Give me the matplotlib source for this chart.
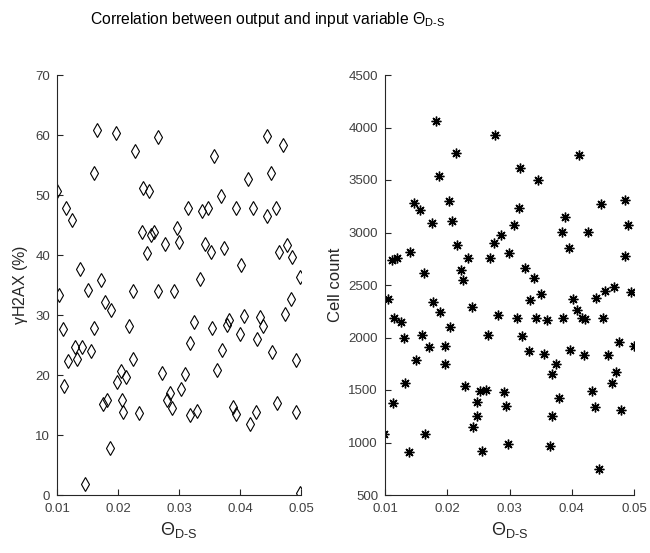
import numpy as np
import matplotlib
matplotlib.use("Agg")
import matplotlib.pyplot as plt

# gamma-H2AX (%) vs theta_D-S
theta_h2ax = [0.01648, 0.01961, 0.02284, 0.02658, 0.01604, 0.0100, 0.02416, 0.0251, 0.01143, 0.01253,
              0.02394, 0.02592, 0.02542, 0.02768, 0.02482, 0.01385, 0.01714, 0.04435, 0.04704, 0.03579,
              0.04128, 0.04501, 0.0369, 0.0314, 0.03382, 0.03476, 0.03937, 0.04221, 0.04435, 0.04595,
              0.02965, 0.03008, 0.03426, 0.03519, 0.03739, 0.04019, 0.04638, 0.0477, 0.04858, 0.03337,
              0.04984, 0.01033, 0.015, 0.02246, 0.02658, 0.0178, 0.01889, 0.01099, 0.01604, 0.02175,
              0.01296, 0.01407, 0.0156, 0.01188, 0.01329, 0.02241, 0.01121, 0.02043, 0.01977, 0.02131,
              0.02723, 0.01823, 0.01757, 0.02065, 0.02086, 0.0235, 0.01868, 0.01451, 0.02921, 0.0483,
              0.0325, 0.03535, 0.03815, 0.03793, 0.04062, 0.04325, 0.04375, 0.04743, 0.03996, 0.04282,
              0.03184, 0.03711, 0.04529, 0.04918, 0.03097, 0.03629, 0.03031, 0.02855, 0.02811, 0.02883,
              0.03184, 0.033, 0.03887, 0.03937, 0.04259, 0.04172, 0.04611, 0.04918, 0.04984]
h2ax = [60.9, 60.3, 57.4, 59.6, 53.6, 50.7, 51.2, 50.7, 47.9, 45.8,
        43.8, 43.8, 43.3, 41.8, 40.3, 37.6, 35.8, 59.8, 58.4, 56.5,
        52.7, 53.6, 49.8, 47.8, 47.4, 47.8, 47.8, 47.8, 46.5, 47.8,
        44.5, 42.1, 41.8, 40.5, 41.2, 38.3, 40.5, 41.6, 39.6, 36.0,
        36.3, 33.3, 34.2, 34.0, 34.0, 32.2, 30.9, 27.6, 27.8, 28.2,
        24.7, 24.7, 24.0, 22.4, 22.7, 22.7, 18.2, 20.7, 18.9, 19.6,
        20.4, 15.8, 15.1, 15.8, 13.8, 13.6, 7.8, 1.8, 34.0, 32.7,
        28.9, 27.8, 29.1, 28.4, 29.8, 29.6, 28.2, 30.1, 26.9, 26.0,
        25.4, 24.2, 23.8, 22.5, 20.2, 20.9, 17.6, 17.0, 15.8, 14.5,
        13.3, 14.0, 14.7, 13.5, 13.8, 11.8, 15.3, 13.8, 0.3]

# cell count vs theta_D-S
theta_cells = [0.01813, 0.0277, 0.0214, 0.01862, 0.01465, 0.01562, 0.02027, 0.0175, 0.02071, 0.02867,
               0.0275, 0.02156, 0.01406, 0.02986, 0.01107, 0.01197, 0.02327, 0.0269, 0.01626, 0.0222,
               0.02247, 0.04119, 0.03167, 0.03461, 0.03146, 0.03889, 0.04467, 0.04852, 0.03071, 0.03841,
               0.04269, 0.04911, 0.03953, 0.04852, 0.03247, 0.03396, 0.01043, 0.01144, 0.01262, 0.0177,
               0.01878, 0.02391, 0.02819, 0.02048, 0.013, 0.01599, 0.02649, 0.01706, 0.01968, 0.01498,
               0.01968, 0.01316, 0.02284, 0.0252, 0.02626, 0.02905, 0.01128, 0.02477, 0.02942, 0.02477,
               0.02412, 0.0099, 0.01642, 0.01385, 0.02562, 0.02979, 0.03332, 0.03504, 0.04013, 0.04082,
               0.04157, 0.04215, 0.04382, 0.04536, 0.04681, 0.04944, 0.03119, 0.03424, 0.03595, 0.03862,
               0.0451, 0.03204, 0.03316, 0.03547, 0.03974, 0.04194, 0.04575, 0.04767, 0.05002, 0.03745,
               0.03681, 0.04708, 0.04644, 0.04323, 0.03788, 0.04366, 0.04788, 0.03676, 0.03653, 0.04445]
cells = [4059, 3931, 3754, 3538, 3284, 3217, 3297, 3093, 3107, 2979,
         2903, 2878, 2814, 2802, 2738, 2757, 2757, 2757, 2611, 2646,
         2548, 3738, 3614, 3500, 3233, 3145, 3271, 3310, 3069, 3002,
         3002, 3069, 2850, 2776, 2659, 2570, 2367, 2189, 2150, 2338,
         2240, 2290, 2217, 2100, 1998, 2024, 2024, 1910, 1922, 1783,
         1745, 1567, 1541, 1490, 1503, 1478, 1376, 1389, 1350, 1249,
         1148, 1084, 1084, 907, 919, 983, 2354, 2411, 2367, 2265,
         2189, 2176, 2379, 2443, 2481, 2431, 2189, 2189, 2164, 2189,
         2189, 2011, 1871, 1846, 1884, 1833, 1833, 1960, 1922, 1745,
         1655, 1669, 1567, 1490, 1427, 1338, 1312, 1249, 970, 748]

x_ticks = [0.01, 0.02, 0.03, 0.04, 0.05]

plt.rcParams['font.family'] = ['Liberation Sans', 'DejaVu Sans']
plt.rcParams['mathtext.fontset'] = 'custom'
plt.rcParams['mathtext.rm'] = 'Liberation Sans'
plt.rcParams['mathtext.it'] = 'Liberation Sans:italic'
plt.rcParams['mathtext.default'] = 'regular'

axis_col = '#262626'
theta_lbl = r'$\Theta_{D\text{-}S}$'

fig = plt.figure(figsize=(6.5, 5.53), dpi=100)
ax1 = fig.add_axes([57 / 650, 58 / 553, 244 / 650, 420 / 553])
ax2 = fig.add_axes([385 / 650, 58 / 553, 249 / 650, 420 / 553])

ax1.plot(theta_h2ax, h2ax, linestyle='none', marker='d', markersize=7.5,
         markerfacecolor='none', markeredgecolor='k', markeredgewidth=0.8)
ax2.plot(theta_cells, cells, linestyle='none', marker=(8, 2, 0), markersize=7,
         color='k', markeredgewidth=1.0)

ax1.set_ylim(0, 70)
ax1.set_yticks(range(0, 71, 10))
ax2.set_ylim(500, 4500)
ax2.set_yticks(range(500, 4501, 500))

for ax in (ax1, ax2):
    ax.set_xlim(0.01, 0.05)
    ax.set_xticks(x_ticks)
    ax.set_xticklabels(['%.2f' % v for v in x_ticks])
    ax.spines['top'].set_visible(False)
    ax.spines['right'].set_visible(False)
    for s in ('left', 'bottom'):
        ax.spines[s].set_color(axis_col)
        ax.spines[s].set_linewidth(0.8)
    ax.tick_params(direction='in', length=4, width=0.8, color=axis_col,
                   labelcolor='#404040', labelsize=9.5)
    ax.tick_params(axis='x', pad=6)
    ax.tick_params(axis='y', pad=5)
    ax.set_xlabel(theta_lbl, fontsize=13, color=axis_col, labelpad=3)

ax1.set_ylabel(r'$\gamma$H2AX (%)', fontsize=11.5, color=axis_col, labelpad=4)
ax2.set_ylabel('Cell count', fontsize=12, color=axis_col, labelpad=4)

fig.text(268 / 650, 1 - 10 / 553,
         r'Correlation between output and input variable $\Theta_{D\text{-}S}$',
         ha='center', va='top', fontsize=11.3, color='k')

fig.savefig('out.png', dpi=100)
